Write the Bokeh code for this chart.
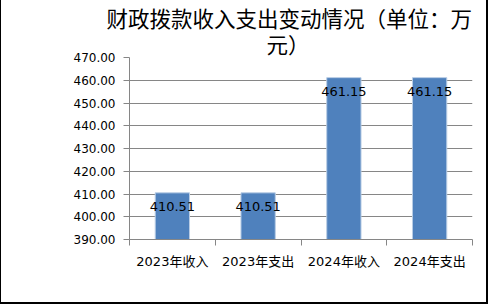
from bokeh.plotting import figure
from bokeh.models import ColumnDataSource, FixedTicker, NumeralTickFormatter, Range1d, Title
from bokeh.core.properties import value
from bokeh.embed import file_html
from bokeh.resources import INLINE

categories = ["2023年收入", "2023年支出", "2024年收入", "2024年支出"]
amounts = [410.51, 410.51, 461.15, 461.15]
y_ticks = [390, 400, 410, 420, 430, 440, 450, 460, 470]
title_lines = ["财政拨款收入支出变动情况（单位：万", "元）"]

y_min, y_max = y_ticks[0], y_ticks[-1]
xs = [i + 0.5 for i in range(len(categories))]
src = ColumnDataSource(dict(x=xs, top=amounts, label=[f"{v:.2f}" for v in amounts]))

FONT = "'DejaVu Sans', 'Noto Sans CJK SC'"
TITLE_FONT = "'Liberation Sans', 'Noto Sans CJK SC'"

p = figure(width=488, height=304, output_backend="svg", toolbar_location=None,
           x_range=Range1d(0, len(categories)), y_range=Range1d(y_min, y_max),
           min_border_left=128, min_border_right=17, min_border_bottom=65, min_border_top=57)
p.styles = {"border-left": "1px solid black", "border-right": "2px solid black",
            "border-bottom": "2px solid black"}

for t, off in zip(reversed(title_lines), [137, -23]):
    p.add_layout(Title(text=t, align="left", offset=off, standoff=0,
                       text_font=TITLE_FONT, text_font_size="21.5px",
                       text_font_style="normal", text_color="black"), "above")

p.vbar(x="x", top="top", bottom=y_min, width=0.4, source=src,
       fill_color="#4F81BD", line_color="#B9CDE5", line_width=1)
p.text(x="x", y="top", text="label", source=src, text_align="center",
       text_baseline="middle", y_offset=14, text_font=value(FONT),
       text_font_size="13px", text_color="black")

p.xgrid.visible = False
p.ygrid.grid_line_color = "#868686"
p.ygrid.ticker = FixedTicker(ticks=y_ticks)

p.yaxis.ticker = FixedTicker(ticks=y_ticks)
p.yaxis.formatter = NumeralTickFormatter(format="0.00")
p.yaxis.axis_line_color = "#868686"
p.yaxis.major_tick_line_color = "#868686"
p.yaxis.major_tick_out = 6
p.yaxis.major_tick_in = 0
p.yaxis.minor_tick_line_color = None
p.yaxis.major_label_text_font = FONT
p.yaxis.major_label_text_font_size = "12px"
p.yaxis.major_label_text_color = "black"
p.yaxis.major_label_standoff = 8

p.xaxis.ticker = FixedTicker(ticks=xs, minor_ticks=list(range(len(categories) + 1)))
p.xaxis.major_label_overrides = {x: c for x, c in zip(xs, categories)}
p.xaxis.axis_line_color = "#868686"
p.xaxis.major_tick_line_color = None
p.xaxis.minor_tick_line_color = "#868686"
p.xaxis.minor_tick_out = 6
p.xaxis.minor_tick_in = 0
p.xaxis.major_tick_out = 0
p.xaxis.major_label_text_font = FONT
p.xaxis.major_label_text_font_size = "13px"
p.xaxis.major_label_text_color = "black"
p.xaxis.major_label_standoff = 8

p.outline_line_color = None
p.background_fill_color = "white"
p.border_fill_color = "white"

open("out.html", "w").write(file_html(p, INLINE))
